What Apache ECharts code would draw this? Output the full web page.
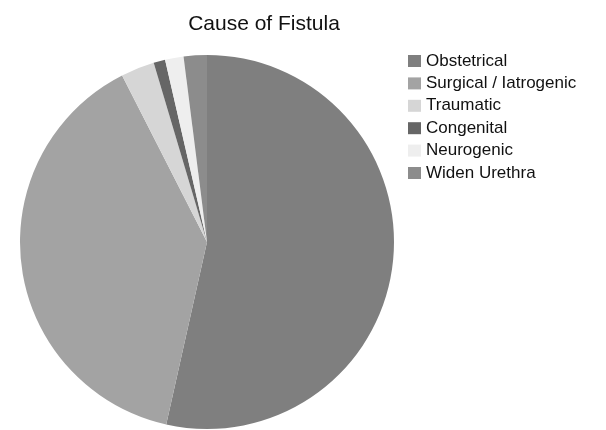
<!DOCTYPE html>
<html>
<head>
<meta charset="utf-8">
<script src="https://cdn.jsdelivr.net/npm/echarts@6/dist/echarts.min.js"></script>
<style>
  html, body { margin: 0; padding: 0; background: #fff; }
  #main { width: 606px; height: 430px; }
</style>
</head>
<body>
<div id="main"></div>
<script>
  // causes and their share (%)
  const causes = ['Obstetrical', 'Surgical / Iatrogenic', 'Traumatic', 'Congenital', 'Neurogenic', 'Widen Urethra'];
  const shares = [53.5, 39.0, 2.9, 1.0, 1.6, 2.0];
  const colors = ['#7f7f7f', '#a3a3a3', '#d6d6d6', '#666666', '#eeeeee', '#8c8c8c'];

  const chart = echarts.init(document.getElementById('main'));
  chart.setOption({
    animation: false,
    color: colors,
    title: {
      text: 'Cause of Fistula',
      left: 259,
      textAlign: 'center',
      top: 9,
      textStyle: {
        fontFamily: 'Liberation Sans',
        fontSize: 21,
        fontWeight: 'normal',
        color: '#111'
      }
    },
    legend: {
      orient: 'vertical',
      left: 403,
      top: 45,
      icon: 'rect',
      itemWidth: 13,
      itemHeight: 12,
      itemGap: 0.4,
      textStyle: {
        fontFamily: 'Liberation Sans',
        fontSize: 17,
        lineHeight: 22,
        color: '#111'
      },
      data: causes
    },
    series: [{
      type: 'pie',
      center: [207, 242],
      radius: 187,
      startAngle: 90,
      clockwise: true,
      label: { show: false },
      labelLine: { show: false },
      emphasis: { disabled: true },
      itemStyle: { borderWidth: 0 },
      data: causes.map((name, i) => ({ name: name, value: shares[i] }))
    }]
  });
</script>
</body>
</html>
